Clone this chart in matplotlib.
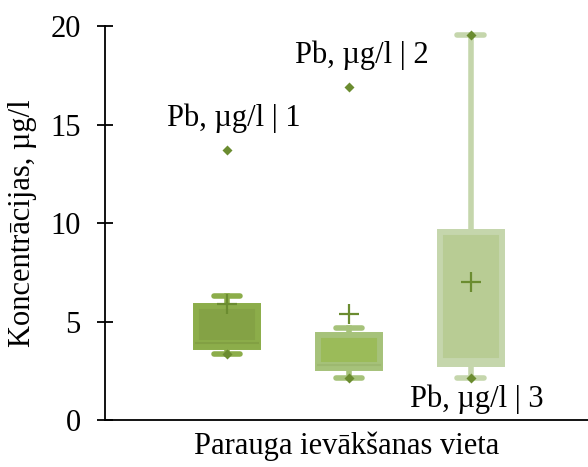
import numpy as np
import matplotlib
matplotlib.use("Agg")
import matplotlib.pyplot as plt

plt.rcParams['font.family'] = ['Liberation Serif', 'DejaVu Serif']

# box data per sampling site (ug/l)
series = ["Pb, µg/l | 1", "Pb, µg/l | 2", "Pb, µg/l | 3"]
mins = [3.35, 2.15, 2.15]
q1 = [3.7, 2.64, 2.84]
medians = [3.93, 2.79, 3.0]
q3 = [5.79, 4.31, 9.54]
maxs = [6.3, 4.67, 19.55]
means = [5.89, 5.38, 7.0]
# single points drawn as diamonds
points = [[3.35, 13.7], [2.15, 16.9], [2.15, 19.55]]
# where each series label sits (value it is attached to)
label_at = [13.7, 16.9, 2.15]

positions = [1, 2, 3]
edge_cols = ["#8cad4a", "#a6c27a", "#c5d6ac"]
fill_cols = ["#84a245", "#9bbb59", "#b8cc94"]
med_cols = ["#82a043", "#9db870", "#c5d6ac"]
dark = "#6b8c30"

fig = plt.figure(figsize=(5.88, 4.67), dpi=100)
ax = fig.add_axes([0.1786, 0.1006, 0.8214, 0.8437])

w = 0.508
for i, p in enumerate(positions):
    # whiskers
    ax.plot([p, p], [mins[i], q1[i]], color=edge_cols[i], lw=4, zorder=1)
    ax.plot([p, p], [q3[i], maxs[i]], color=edge_cols[i], lw=4, zorder=1)
    for v in (mins[i], maxs[i]):
        ax.plot([p - 0.11, p + 0.11], [v, v], color=edge_cols[i], lw=4,
                solid_capstyle='round', zorder=1)
    # box in two halves
    ax.bar(p, medians[i] - q1[i], bottom=q1[i], width=w, color=fill_cols[i],
           edgecolor=edge_cols[i], lw=4.3, zorder=2)
    ax.bar(p, q3[i] - medians[i], bottom=medians[i], width=w, color=fill_cols[i],
           edgecolor=edge_cols[i], lw=4.3, zorder=2)
    ax.plot([p - w / 2, p + w / 2], [medians[i], medians[i]],
            color=med_cols[i], lw=1.5, zorder=3)
    # mean
    ax.plot(p, means[i], marker='+', ms=15, mew=1.6, color=dark, zorder=5)
    for o in points[i]:
        ax.plot(p, o, marker='D', ms=5, color=dark, mec='none', zorder=4)

# series labels
offsets = [(5, 12), (9, 12), (4, -5)]
vas = ['bottom', 'bottom', 'top']
for i, p in enumerate(positions):
    ax.annotate(series[i], (p, label_at[i]), xytext=offsets[i],
                textcoords='offset points', ha='center', va=vas[i], fontsize=22)

ax.set_xlim(0, 3.96)
ax.set_ylim(0, 20)
ax.set_yticks([0, 5, 10, 15, 20])
ax.set_xticks([])
ax.tick_params(axis='y', direction='inout', length=11, width=1.3,
               labelsize=22, pad=12)
for s in ['top', 'right']:
    ax.spines[s].set_visible(False)
ax.spines['left'].set_linewidth(1.3)
ax.spines['bottom'].set_linewidth(1.3)
ax.set_ylabel("Koncentrācijas, µg/l", fontsize=22)
ax.yaxis.set_label_coords(-0.14, 0.5)
ax.set_xlabel("Parauga ievākšanas vieta", fontsize=22, labelpad=8)

fig.savefig("out.png", dpi=100)
